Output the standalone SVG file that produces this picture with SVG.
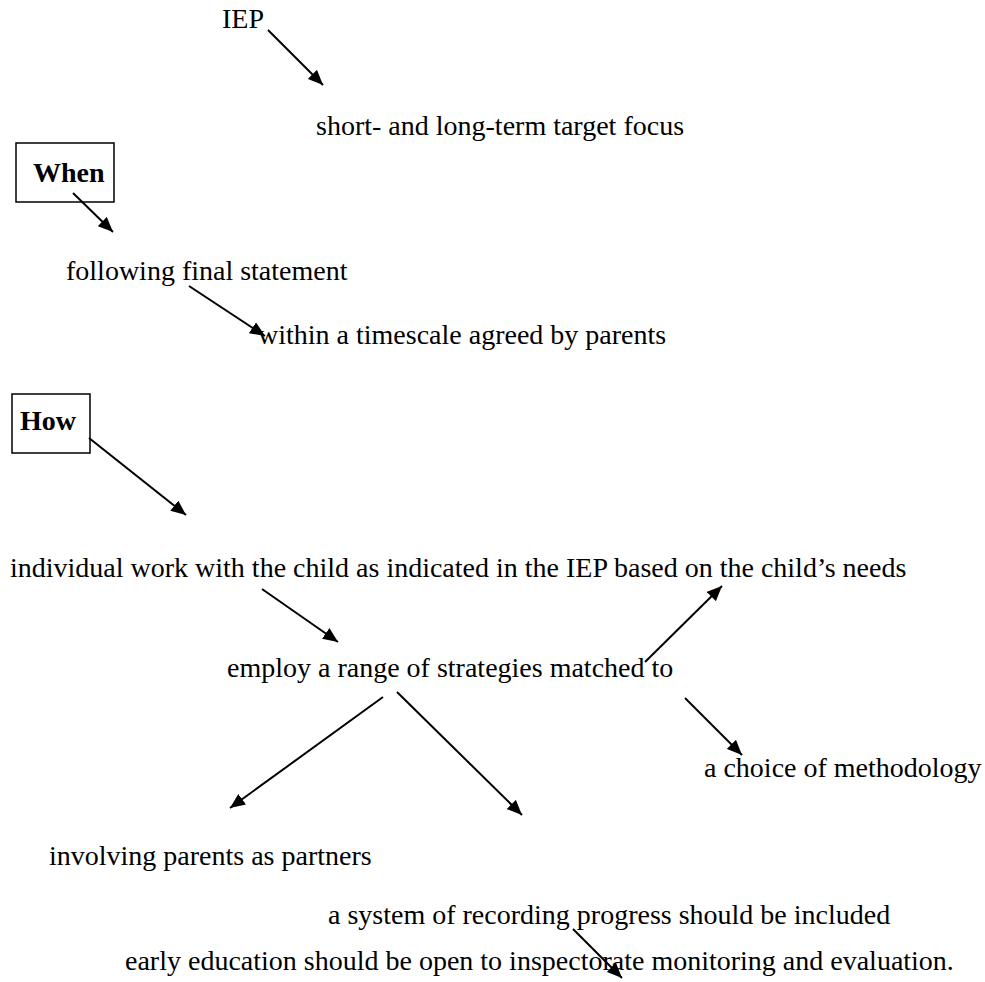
<svg xmlns="http://www.w3.org/2000/svg" width="985" height="982" viewBox="0 0 985 982">
  <style>
    .t { font-family: "Liberation Serif", "Times New Roman", serif; font-size: 28px; fill: #000; }
    .b { font-weight: bold; }
    .box { fill: none; stroke: #000; stroke-width: 1.5; }
    .edge { stroke: #000; stroke-width: 2; fill: none; marker-end: url(#arrow); }
  </style>
  <defs>
    <marker id="arrow" markerUnits="userSpaceOnUse" markerWidth="17" markerHeight="13" refX="15" refY="6.5" orient="auto">
      <path d="M0,0 L15,6.5 L0,13 z" fill="#000"/>
    </marker>
  </defs>
  <rect width="985" height="982" fill="#fff"/>

  <g id="nodes">
    <g id="iep"><text class="t" x="222" y="28">IEP</text></g>
    <g id="target"><text class="t" x="316" y="135">short- and long-term target focus</text></g>
    <g id="when">
      <rect class="box" x="16" y="143" width="98" height="59"/>
      <text class="t b" x="33" y="182">When</text>
    </g>
    <g id="following"><text class="t" x="66" y="280">following final statement</text></g>
    <g id="timescale"><text class="t" x="258" y="344">within a timescale agreed by parents</text></g>
    <g id="how">
      <rect class="box" x="12" y="394" width="78" height="59"/>
      <text class="t b" x="20" y="430">How</text>
    </g>
    <g id="individual"><text class="t" x="10" y="577">individual work with the child as indicated in the IEP based on the child’s needs</text></g>
    <g id="strategies"><text class="t" x="227" y="677">employ a range of strategies matched to</text></g>
    <g id="methodology"><text class="t" x="704" y="777">a choice of methodology</text></g>
    <g id="parents"><text class="t" x="49" y="865">involving parents as partners</text></g>
    <g id="recording"><text class="t" x="328" y="924">a system of recording progress should be included</text></g>
    <g id="inspection"><text class="t" x="125" y="970">early education should be open to inspectorate monitoring and evaluation.</text></g>
  </g>

  <g id="connectors">
    <line class="edge" x1="268" y1="30" x2="323" y2="85"/>
    <line class="edge" x1="73" y1="193" x2="113" y2="232"/>
    <line class="edge" x1="189" y1="286" x2="265" y2="336"/>
    <line class="edge" x1="89" y1="438" x2="186" y2="515"/>
    <line class="edge" x1="262" y1="589" x2="338" y2="642"/>
    <line class="edge" x1="645" y1="662" x2="722" y2="586"/>
    <line class="edge" x1="685" y1="698" x2="742" y2="755"/>
    <line class="edge" x1="383" y1="697" x2="230" y2="808"/>
    <line class="edge" x1="397" y1="692" x2="522" y2="815"/>
    <line class="edge" x1="573" y1="929" x2="622" y2="978"/>
  </g>
</svg>
